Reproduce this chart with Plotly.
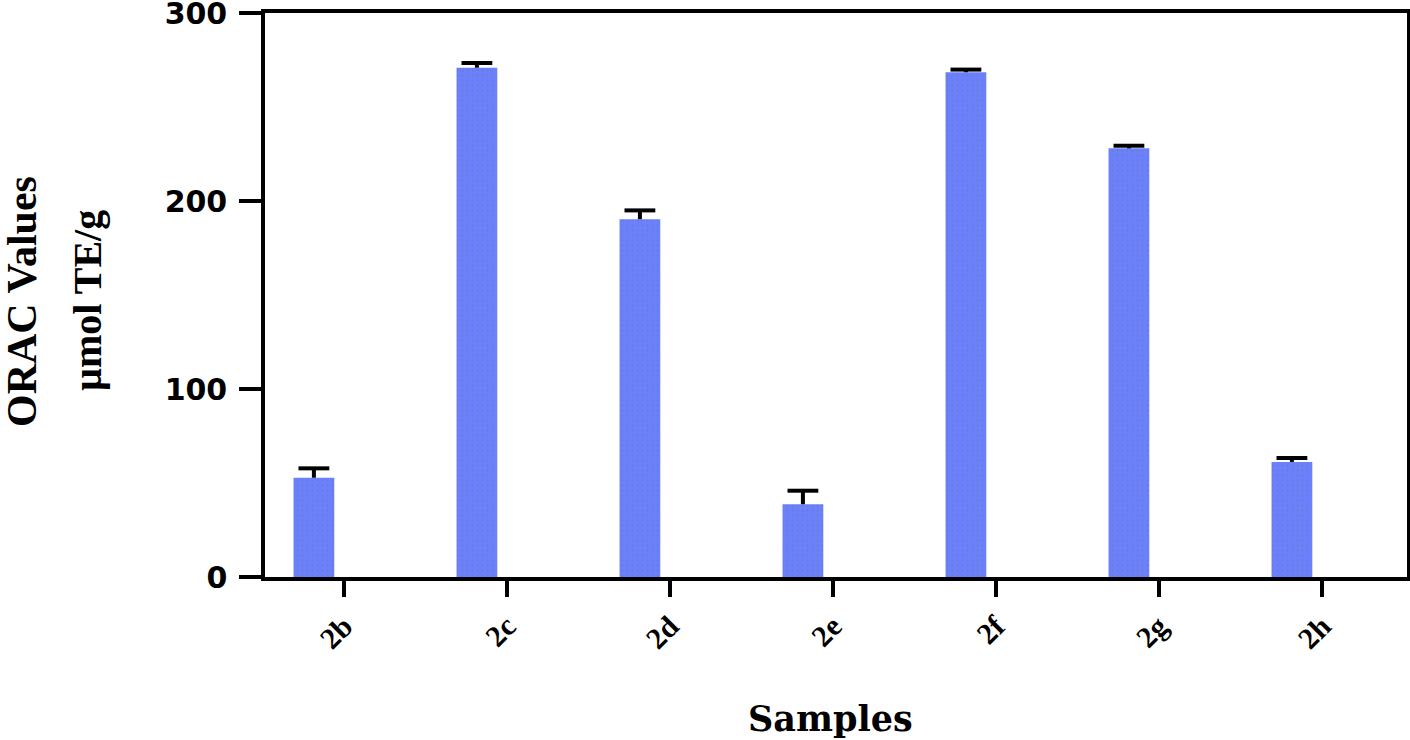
import plotly.graph_objects as go

samples = ["2b", "2c", "2d", "2e", "2f", "2g", "2h"]
orac_values = [52.8, 270.9, 190.3, 38.7, 268.5, 228.0, 61.2]
orac_errors = [5.0, 2.5, 4.7, 7.2, 1.4, 1.4, 2.1]
y_ticks = [0, 100, 200, 300]

W, H = 1410, 740
ML, MR, MT, MB = 265, 3, 13, 163
pw = W - ML - MR
ph = H - MT - MB

BAR_W = 0.25
BAR_OFF = -0.31

def px_x(p):
    return (p - ML) / pw

def px_y(p):
    return (H - MB - p) / ph

pos = list(range(len(samples)))
centers = [p + BAR_OFF + BAR_W / 2 for p in pos]
tops = [v + e for v, e in zip(orac_values, orac_errors)]

fig = go.Figure()
fig.add_trace(go.Bar(
    x=pos,
    y=orac_values,
    width=BAR_W,
    offset=BAR_OFF,
    marker=dict(
        color="#6b80fd",
        line=dict(width=0),
        pattern=dict(shape=".", fgcolor="#6f7488", bgcolor="#6b80fd", size=5, solidity=0.1),
    ),
    showlegend=False,
    hoverinfo="skip",
))
# error bars: stem from the cap point down to the bar top, plus a horizontal cap marker
fig.add_trace(go.Scatter(
    x=centers,
    y=tops,
    mode="markers",
    marker=dict(symbol="line-ew", size=22, color="black", line=dict(color="black", width=4)),
    error_y=dict(
        type="data",
        symmetric=False,
        array=[0] * len(orac_errors),
        arrayminus=orac_errors,
        color="black",
        thickness=4,
        width=0,
    ),
    showlegend=False,
    hoverinfo="skip",
))

fig.update_layout(
    width=W,
    height=H,
    margin=dict(l=ML, r=MR, t=MT, b=MB),
    plot_bgcolor="white",
    paper_bgcolor="white",
    xaxis=dict(
        range=[-0.485, 6.521],
        tickvals=pos,
        ticktext=samples,
        automargin=False,
        showline=True,
        linecolor="black",
        linewidth=3.5,
        mirror=True,
        ticks="outside",
        ticklen=16,
        tickwidth=3.5,
        tickcolor="black",
        tickangle=-45,
        tickfont=dict(family="Liberation Serif", size=30, color="black", weight="bold"),
        showgrid=False,
        zeroline=False,
    ),
    yaxis=dict(
        range=[0, 300],
        tickvals=y_ticks,
        automargin=False,
        showline=True,
        linecolor="black",
        linewidth=3.5,
        mirror=True,
        ticks="outside",
        ticklen=22,
        tickwidth=3.5,
        tickcolor="black",
        ticklabeloverflow="allow",
        ticklabelstandoff=6,
        tickfont=dict(family="DejaVu Sans", size=30, color="black", weight="bold"),
        showgrid=False,
        zeroline=False,
    ),
    annotations=[
        dict(text="ORAC Values", xref="paper", yref="paper", x=px_x(22), y=px_y(302),
             xanchor="center", yanchor="middle", textangle=-90, showarrow=False,
             font=dict(family="Liberation Serif", size=42, color="black", weight="bold")),
        dict(text="µmol TE/g", xref="paper", yref="paper", x=px_x(87), y=px_y(301),
             xanchor="center", yanchor="middle", textangle=-90, showarrow=False,
             font=dict(family="Liberation Serif", size=40, color="black", weight="bold")),
        dict(text="Samples", xref="paper", yref="paper", x=px_x(830), y=px_y(718),
             xanchor="center", yanchor="middle", showarrow=False,
             font=dict(family="DejaVu Serif", size=35, color="black", weight="bold")),
    ],
)

fig.write_html("out.html", config={"displayModeBar": False},
               post_script="document.documentElement.style.overflow='hidden';document.body.style.overflow='hidden';document.body.style.margin='0';")
